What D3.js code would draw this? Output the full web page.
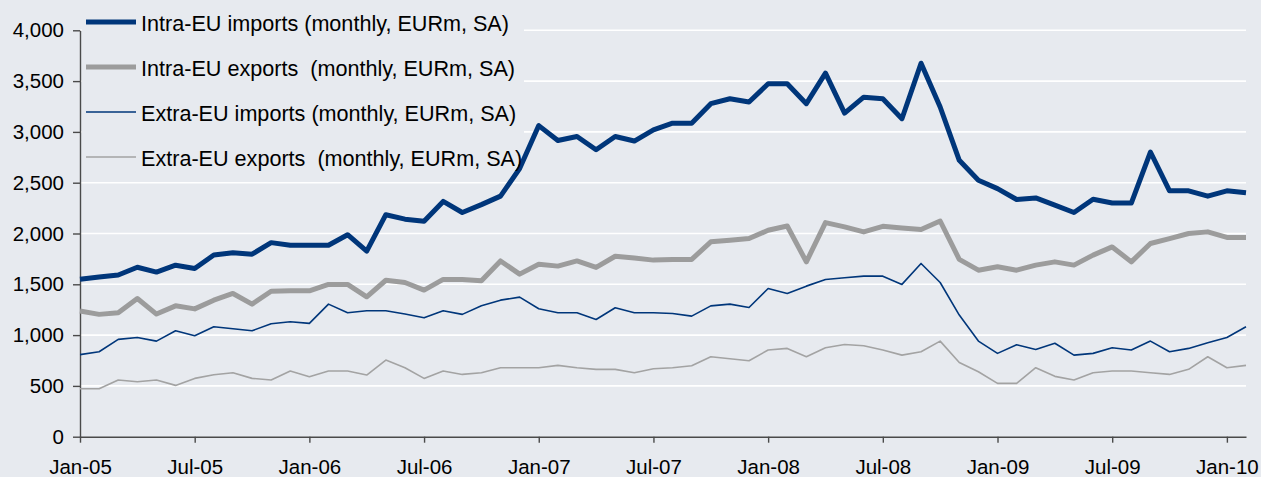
<!DOCTYPE html>
<html>
<head>
<meta charset="utf-8">
<script src="https://cdn.jsdelivr.net/npm/d3@7"></script>
<style>
  html, body { margin: 0; padding: 0; background: #e7eaef; }
  svg { display: block; font-family: "Liberation Sans", Arial, sans-serif; }
</style>
</head>
<body>
<div id="chart"></div>
<script>
// month categories Jan-05 .. Feb-10
var months = d3.timeMonth.range(new Date(2005, 0, 1), new Date(2010, 2, 1));

var tickLabels = ["Jan-05", "Jul-05", "Jan-06", "Jul-06", "Jan-07", "Jul-07",
  "Jan-08", "Jul-08", "Jan-09", "Jul-09", "Jan-10"];
var yTicks = [0, 500, 1000, 1500, 2000, 2500, 3000, 3500, 4000];

var intraImports = [1550, 1572, 1592, 1668, 1620, 1688, 1655, 1788, 1810, 1796, 1910, 1885,
  1885, 1885, 1988, 1826, 2185, 2141, 2121, 2316, 2207, 2284, 2368, 2640, 3062, 2915,
  2955, 2824, 2955, 2910, 3020, 3086, 3086, 3278, 3326, 3294, 3474, 3474, 3278, 3578,
  3185, 3342, 3326, 3130, 3676, 3245, 2720, 2524, 2442, 2335, 2350, 2280, 2207, 2337,
  2300, 2300, 2802, 2420, 2420, 2367, 2420, 2400];

var intraExports = [1238, 1204, 1220, 1360, 1207, 1288, 1258, 1344, 1410, 1305, 1432, 1436,
  1436, 1499, 1499, 1377, 1540, 1518, 1443, 1548, 1548, 1534, 1730, 1600, 1698, 1679,
  1730, 1666, 1776, 1758, 1738, 1745, 1745, 1918, 1934, 1950, 2032, 2074, 1721, 2107,
  2065, 2016, 2071, 2055, 2040, 2123, 1745, 1639, 1672, 1639, 1689, 1721, 1689, 1787,
  1868, 1721, 1902, 1950, 2000, 2016, 1961, 1961];

var extraImports = [808, 836, 958, 977, 941, 1043, 994, 1082, 1062, 1043, 1112, 1131,
  1115, 1305, 1220, 1239, 1239, 1207, 1170, 1239, 1204, 1288, 1344, 1374, 1259, 1220,
  1220, 1154, 1269, 1220, 1220, 1213, 1187, 1288, 1305, 1272, 1459, 1410, 1482, 1548,
  1564, 1580, 1580, 1499, 1705, 1518, 1197, 941, 820, 905, 859, 920, 803, 820,
  875, 853, 941, 836, 869, 925, 977, 1082];

var extraExports = [472, 472, 558, 541, 558, 505, 574, 610, 630, 574, 558, 646,
  590, 646, 646, 607, 754, 679, 574, 646, 613, 630, 679, 679, 679, 702,
  679, 663, 663, 630, 669, 679, 699, 787, 767, 748, 853, 869, 787, 875,
  908, 895, 853, 803, 836, 941, 731, 639, 525, 525, 679, 594, 558, 630,
  646, 646, 630, 613, 663, 787, 679, 702];

var seriesNames = ["Intra-EU imports (monthly, EURm, SA)",
  "Intra-EU exports  (monthly, EURm, SA)",
  "Extra-EU imports (monthly, EURm, SA)",
  "Extra-EU exports  (monthly, EURm, SA)"];

var series = [
  { name: seriesNames[0], values: intraImports, color: "#00367a", width: 5 },
  { name: seriesNames[1], values: intraExports, color: "#9c9c9c", width: 5 },
  { name: seriesNames[2], values: extraImports, color: "#00367a", width: 1.6 },
  { name: seriesNames[3], values: extraExports, color: "#a3a3a3", width: 1.6 }
];

var W = 1261, H = 477;
var plotLeft = 80, plotRight = 1246, plotTop = 30.3, plotBottom = 436.7;

var svg = d3.select("#chart").append("svg")
  .attr("width", W)
  .attr("height", H);

var x = d3.scaleLinear()
  .domain([0, months.length - 1])
  .range([plotLeft, plotRight]);

var y = d3.scaleLinear()
  .domain([0, 4000])
  .range([plotBottom, plotTop]);

// gridlines
svg.append("g")
  .selectAll("line")
  .data(yTicks.filter(d => d > 0))
  .enter().append("line")
  .attr("x1", plotLeft)
  .attr("x2", plotRight)
  .attr("y1", d => y(d))
  .attr("y2", d => y(d))
  .attr("stroke", "#ffffff")
  .attr("stroke-width", 1.6);

// legend background hides the gridlines behind it
svg.append("rect")
  .attr("x", 82)
  .attr("y", 4)
  .attr("width", 442)
  .attr("height", 170)
  .attr("fill", "#e7eaef");

// y axis
var yAxis = svg.append("g")
  .attr("transform", "translate(" + plotLeft + ",0)")
  .call(d3.axisLeft(y).tickValues(yTicks).tickFormat(d3.format(",")).tickSize(7).tickSizeOuter(0).tickPadding(9));

// x axis
var tickIdx = tickLabels.map((d, i) => i * 6);
var xAxis = svg.append("g")
  .attr("transform", "translate(0," + plotBottom + ")")
  .call(d3.axisBottom(x).tickValues(tickIdx).tickFormat((d, i) => tickLabels[i]).tickSize(6).tickSizeOuter(0).tickPadding(17));

[yAxis, xAxis].forEach(function (g) {
  g.select(".domain").attr("stroke", "#4a4a4a").attr("stroke-width", 1.4);
  g.selectAll(".tick line").attr("stroke", "#4a4a4a").attr("stroke-width", 1.4);
  g.selectAll("text").attr("font-size", "20.5px").attr("fill", "#000")
    .attr("font-family", "Liberation Sans, Arial, sans-serif");
});

// lines
var line = d3.line()
  .x((d, i) => x(i))
  .y(d => y(d));

svg.selectAll(".series")
  .data(series.slice().reverse())
  .enter().append("path")
  .attr("class", "series")
  .attr("d", d => line(d.values))
  .attr("fill", "none")
  .attr("stroke", d => d.color)
  .attr("stroke-width", d => d.width)
  .attr("stroke-linejoin", "round");

// legend
var legend = svg.selectAll(".legend")
  .data(series)
  .enter().append("g")
  .attr("class", "legend")
  .attr("transform", (d, i) => "translate(0," + (22 + i * 45) + ")");

legend.append("line")
  .attr("x1", 86)
  .attr("x2", 136)
  .attr("stroke", d => d.color)
  .attr("stroke-width", d => d.width);

legend.append("text")
  .attr("x", 141)
  .attr("y", 9)
  .attr("font-size", "21.6px")
  .style("white-space", "pre")
  .text(d => d.name);
</script>
</body>
</html>
